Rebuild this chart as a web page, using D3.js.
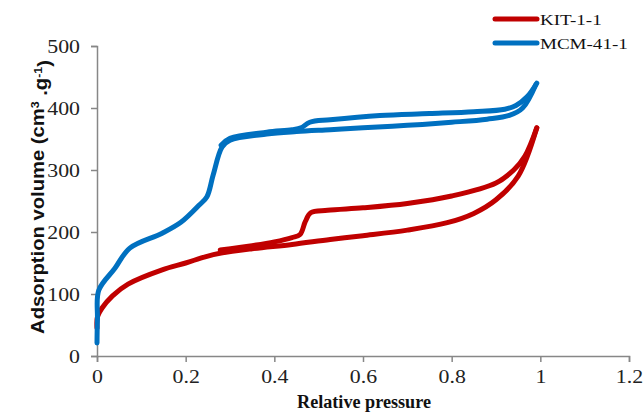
<!DOCTYPE html>
<html>
<head>
<meta charset="utf-8">
<script src="https://cdn.jsdelivr.net/npm/d3@7"></script>
<style>
  body { margin: 0; background: #fff; }
  svg { display: block; }
</style>
</head>
<body>
<div id="chart"></div>
<script>
// isotherm branches, [relative pressure, volume]
var kitAds = [[0, 45], [0.001, 63], [0.011, 77], [0.035, 97], [0.07, 116], [0.147, 139], [0.2, 150],
  [0.244, 160], [0.28, 166], [0.35, 173], [0.44, 180], [0.526, 188], [0.6, 194], [0.7, 203],
  [0.79, 215], [0.85, 230], [0.9, 252], [0.95, 290], [0.992, 368]];
var kitDes = [[0.278, 171], [0.35, 178], [0.4, 184], [0.44, 191], [0.458, 196], [0.47, 217],
  [0.482, 231], [0.52, 235], [0.6, 239], [0.7, 246], [0.8, 258], [0.9, 279], [0.94, 300],
  [0.965, 322], [0.992, 368]];
var mcmAds = [[0, 21], [0.001, 60], [0.004, 106], [0.04, 141], [0.074, 174], [0.147, 198],
  [0.19, 216], [0.23, 243], [0.248, 257], [0.262, 292], [0.282, 337], [0.3, 348],
  [0.383, 358], [0.45, 362], [0.526, 365], [0.6, 368], [0.7, 372], [0.8, 377],
  [0.88, 382], [0.93, 388], [0.96, 400], [0.99, 438]];
var mcmDes = [[0.28, 340], [0.3, 351], [0.383, 361], [0.44, 365], [0.46, 368],
  [0.48, 377], [0.526, 381], [0.638, 388], [0.75, 391], [0.85, 394], [0.92, 398],
  [0.945, 404], [0.97, 418], [0.992, 440]];

var seriesNames = ["KIT-1-1", "MCM-41-1"];
var seriesColors = ["#C00000", "#0070C0"];
var xTicks = [0, 0.2, 0.4, 0.6, 0.8, 1, 1.2];
var yTicks = [0, 100, 200, 300, 400, 500];

var width = 643, height = 414;
var stretch = 1.15; // tick labels in the source look a bit wide

var svg = d3.select("#chart").append("svg")
  .attr("width", width)
  .attr("height", height);

var x = d3.scaleLinear().domain([0, 1.2]).range([97, 629]);
var y = d3.scaleLinear().domain([0, 500]).range([356, 46]);

var axisColor = "#878787";
var serif = "'Liberation Serif', 'Times New Roman', serif";

// y axis
var yAxis = svg.append("g")
  .attr("transform", "translate(" + x(0) + ",0)")
  .call(d3.axisLeft(y).tickValues(yTicks).tickSize(6).tickPadding(11).tickFormat(d3.format("d")));
yAxis.select(".domain").attr("stroke", axisColor).attr("stroke-width", 1.5);
yAxis.selectAll(".tick line").attr("stroke", axisColor).attr("stroke-width", 1.5);
yAxis.selectAll(".tick text")
  .attr("fill", "#222")
  .style("font-family", serif)
  .style("font-size", "19px")
  .attr("dy", "0.32em")
  .attr("transform", function () {
    var xx = +d3.select(this).attr("x");
    return "translate(" + (xx * (1 - stretch)) + ",0) scale(" + stretch + ",1)";
  });

// x axis
var xAxis = svg.append("g")
  .attr("transform", "translate(0," + y(0) + ")")
  .call(d3.axisBottom(x).tickValues(xTicks).tickSize(6).tickPadding(8).tickFormat(function (d) { return d; }));
xAxis.select(".domain").attr("stroke", axisColor).attr("stroke-width", 1.5);
xAxis.selectAll(".tick line").attr("stroke", axisColor).attr("stroke-width", 1.5);
xAxis.selectAll(".tick text")
  .attr("fill", "#222")
  .style("font-family", serif)
  .style("font-size", "19px")
  .attr("transform", "scale(" + stretch + ",1)");

// curves
var line = d3.line()
  .x(function (d) { return x(d[0]); })
  .y(function (d) { return y(d[1]); })
  .curve(d3.curveCatmullRom.alpha(0.5));

var branches = [
  { data: kitAds, c: 0 }, { data: kitDes, c: 0 },
  { data: mcmAds, c: 1 }, { data: mcmDes, c: 1 }
];

svg.append("g").selectAll("path")
  .data(branches)
  .enter().append("path")
  .attr("d", function (d) { return line(d.data); })
  .attr("fill", "none")
  .attr("stroke", function (d) { return seriesColors[d.c]; })
  .attr("stroke-width", 5)
  .attr("stroke-linejoin", "round")
  .attr("stroke-linecap", "round");

// axis titles, squeezed/stretched to the width seen in the source
function fitText(sel, target) {
  var len = sel.node().getComputedTextLength();
  return target / len;
}

var xTitle = svg.append("text")
  .attr("text-anchor", "middle")
  .style("font-family", serif)
  .style("font-weight", "bold")
  .style("font-size", "19px")
  .attr("fill", "#111")
  .text("Relative pressure");
xTitle.attr("transform", "translate(364,408) scale(" + fitText(xTitle, 134) + ",1)");

var yTitle = svg.append("text")
  .attr("text-anchor", "middle")
  .style("font-family", "'Liberation Sans', Arial, sans-serif")
  .style("font-weight", "bold")
  .style("font-size", "18px")
  .attr("fill", "#111");
yTitle.append("tspan").text("Adsorption volume (cm");
yTitle.append("tspan").attr("dy", "-0.45em").style("font-size", "11px").text("3");
yTitle.append("tspan").attr("dy", "0.45em").text(" .g");
yTitle.append("tspan").attr("dy", "-0.45em").style("font-size", "11px").text("-1");
yTitle.append("tspan").attr("dy", "0.45em").text(")");
yTitle.attr("transform", "translate(44,197) rotate(-90) scale(" + fitText(yTitle, 274) + ",1)");

// legend
var legend = svg.append("g").selectAll("g")
  .data(seriesNames)
  .enter().append("g")
  .attr("transform", function (d, i) { return "translate(493," + (19 + i * 24) + ")"; });

legend.append("line")
  .attr("x1", 2).attr("x2", 44)
  .attr("stroke", function (d, i) { return seriesColors[i]; })
  .attr("stroke-width", 5)
  .attr("stroke-linecap", "round");

legend.append("text")
  .attr("transform", "translate(47,6) scale(1.27,1)")
  .style("font-family", serif)
  .style("font-size", "15px")
  .attr("fill", "#111")
  .text(function (d) { return d; });
</script>
</body>
</html>
